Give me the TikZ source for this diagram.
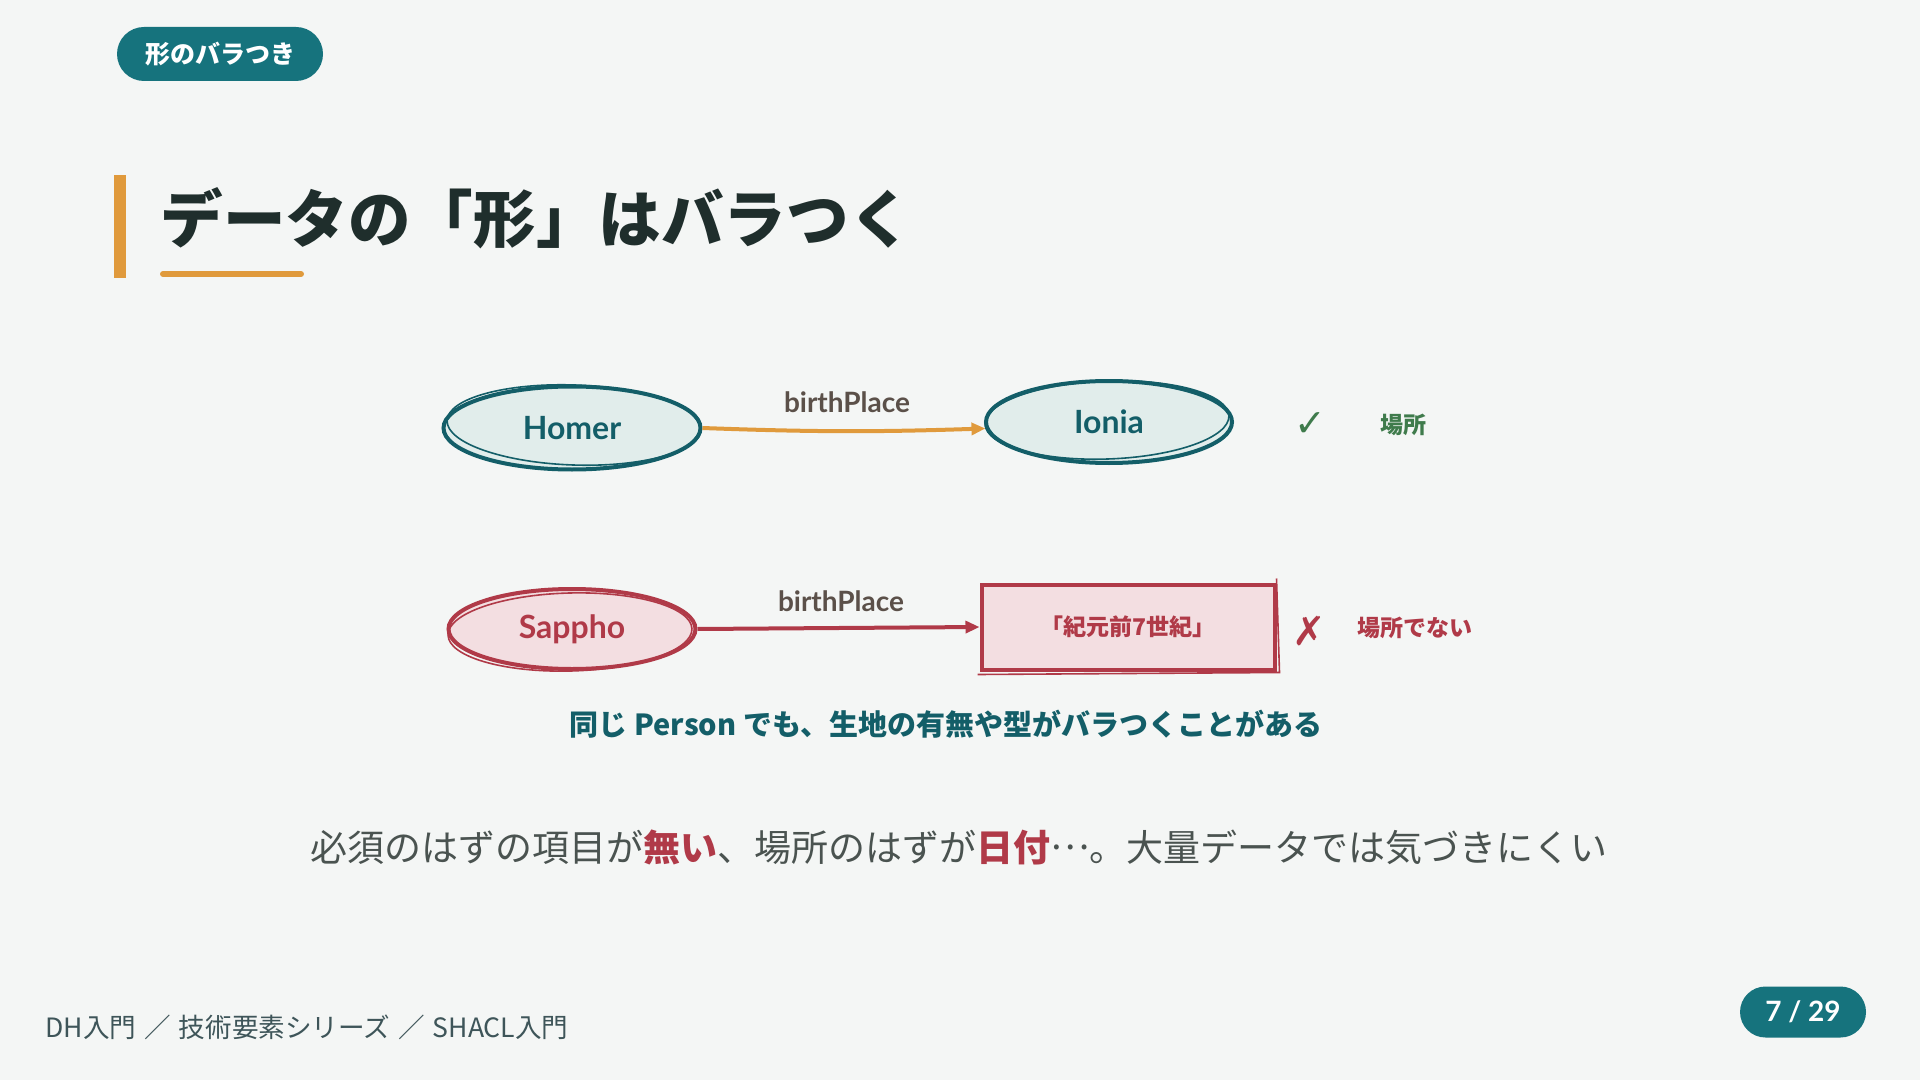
\documentclass[tikz,border=0pt]{standalone}
\usepackage{fontspec}
\setmainfont{Noto Sans CJK JP}
\newfontfamily\latinfont{Lato}
\newfontfamily\symbfont{DejaVu Sans}
\usepackage{xcolor}
\usepackage{tikz}
\usetikzlibrary{positioning, arrows.meta, shapes.geometric, calc}

\definecolor{paper}{HTML}{F4F6F5}
\definecolor{tealdark}{HTML}{135E68}
\definecolor{tealpill}{HTML}{16737D}
\definecolor{tealfill}{HTML}{E1EDEB}
\definecolor{crimson}{HTML}{B03A48}
\definecolor{pinkfill}{HTML}{F3DEE1}
\definecolor{orangeacc}{HTML}{E09A3C}
\definecolor{okgreen}{HTML}{3F7B4C}
\definecolor{inkdark}{HTML}{1F2E2C}
\definecolor{inkgray}{HTML}{4A5350}
\definecolor{labelbrown}{HTML}{5B5049}
\definecolor{footgray}{HTML}{3E5559}

\begin{document}
\begin{tikzpicture}[
      x=0.5pt, y=-0.5pt,
      pill/.style={fill=tealpill, text=white, inner sep=0pt, align=center},
      entity/.style={ellipse, draw=tealdark, fill=tealfill, line width=2pt, inner sep=0pt, text=tealdark, font=\latinfont\bfseries\fontsize{16pt}{19pt}\selectfont},
      badent/.style={entity, draw=crimson, fill=pinkfill, text=crimson},
      literal/.style={rectangle, draw=crimson, fill=pinkfill, line width=2pt, inner sep=0pt, text=crimson, font=\bfseries\fontsize{11.5pt}{14pt}\selectfont},
      edgelbl/.style={text=labelbrown, inner sep=0pt, font=\latinfont\bfseries\fontsize{14pt}{17pt}\selectfont},
      verdict/.style={inner sep=0pt, font=\bfseries\fontsize{11.5pt}{14pt}\selectfont},
      sketch/.style={line width=0.8pt},
      arr/.style={-{Triangle[length=7pt, width=6pt]}, line width=2pt}
    ]
    \useasboundingbox (0,0) rectangle (1920,1080);
    \fill[paper] (0,0) rectangle (1920,1080);
    %% tag and title
    \node[pill, rounded corners=13.5pt, minimum width=103pt, minimum height=27pt,
          font=\bfseries\fontsize{12.5pt}{15pt}\selectfont] (tag) at (220,54) {形のバラつき};
    \fill[orangeacc] (114,175) rectangle (126,278);
    \node[anchor=west, inner sep=0pt, text=inkdark, font=\bfseries\fontsize{31.3pt}{36pt}\selectfont] (title) at (160,218) {データの「形」はバラつく};
    \draw[orangeacc, line width=3pt, line cap=round] (163,274) -- (301,274);
    %% Homer -> Ionia (a place)
    \node[entity, minimum width=128.5pt, minimum height=41.5pt] (homer) at (572,428) {Homer};
    \node[entity, minimum width=123pt, minimum height=41pt] (ionia) at (1109,422) {Ionia};
    \draw[tealdark, sketch] ($(homer.center)+(2,-3)$) ellipse [x radius=127, y radius=40, rotate=-2];
    \draw[tealdark, sketch] ($(ionia.center)+(-2,-2)$) ellipse [x radius=122, y radius=39, rotate=2];
    \draw[arr, orangeacc] (homer.east) to[bend right=2] (ionia.183);
    \node[edgelbl] (bp1) at (847,402) {birthPlace};
    \node[inner sep=0pt, text=okgreen, font=\symbfont\fontsize{19pt}{22pt}\selectfont] (okmark) at (1310,425) {✓};
    \node[verdict, text=okgreen] (okword) at (1403,425) {場所};
    %% Sappho -> literal (not a place)
    \node[badent, minimum width=123.5pt, minimum height=40pt] (sappho) at (572,629) {Sappho};
    \node[literal, minimum width=146.5pt, minimum height=42.5pt] (era) at (1128,627) {「紀元前7世紀」};
    \draw[crimson, sketch] ($(sappho.center)+(-2,3)$) ellipse [x radius=122, y radius=39, rotate=1.5];
    \draw[crimson, sketch] ($(era.south west)+(-2,3)$) -- ($(era.south east)+(3,1)$) -- ($(era.north east)+(0,-4)$);
    \draw[arr, crimson] (sappho.east) -- (era.west);
    \node[edgelbl] (bp2) at (841,601) {birthPlace};
    \node[inner sep=0pt, text=crimson, font=\symbfont\bfseries\fontsize{20pt}{24pt}\selectfont] (ngmark) at (1309,631) {✗};
    \node[verdict, text=crimson] (ngword) at (1415,628) {場所でない};
    %% captions
    \node[inner sep=0pt, text=tealdark, font=\bfseries\fontsize{14.5pt}{17pt}\selectfont] (caption) at (946,724)
      {同じ Person でも、生地の有無や型がバラつくことがある};
    \node[inner sep=0pt, text=inkgray, font=\fontsize{18.5pt}{22pt}\selectfont] (note) at (959,847)
      {必須のはずの項目が\textcolor{crimson}{\bfseries 無い}、場所のはずが\textcolor{crimson}{\bfseries 日付}\raisebox{0.3em}{…}。大量データでは気づきにくい};
    %% footer
    \node[anchor=west, inner sep=0pt, text=footgray, font=\fontsize{13.3pt}{16pt}\selectfont] (crumbs) at (45,1027)
      {DH入門\hspace{0.3em}／\hspace{0.3em}技術要素シリーズ\hspace{0.3em}／\hspace{0.3em}SHACL入門};
    \node[pill, rounded corners=12.75pt, minimum width=63pt, minimum height=25.5pt,
          font=\latinfont\bfseries\fontsize{14pt}{17pt}\selectfont] (page) at (1803,1012) {7 / 29};
  \end{tikzpicture}
\end{document}
